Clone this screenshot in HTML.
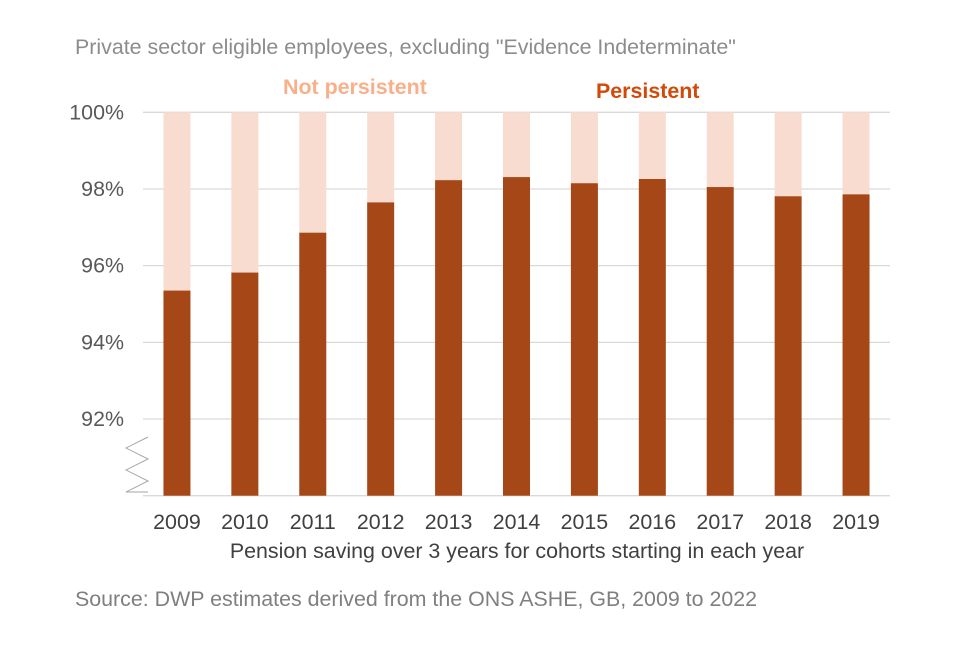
<!DOCTYPE html>
<html><head><meta charset="utf-8"><style>
body{margin:0;background:#fff;font-family:"Liberation Sans",Arial,sans-serif}
svg text{font-family:"Liberation Sans",Arial,sans-serif}
</style></head><body>
<svg id="c" width="960" height="640">
<text x="75" y="54" font-size="21.4" fill="#8c8c8c">Private sector eligible employees, excluding "Evidence Indeterminate"</text>
<text x="283" y="94" font-size="21.4" font-weight="bold" fill="#f9b08a">Not persistent</text>
<text x="596" y="98" font-size="21.4" font-weight="bold" fill="#d24a0a">Persistent</text>
<g id="grid"></g><g id="bars"></g><g id="labels"></g>
<polyline points="148,437 126,448 148,459 126,470 148,481 126,492 148,492" fill="none" stroke="#a6a6a6" stroke-width="1"/>
<text x="517" y="558" font-size="21.4" fill="#404040" text-anchor="middle">Pension saving over 3 years for cohorts starting in each year</text>
<text x="75" y="606" font-size="21.4" fill="#7f7f7f">Source: DWP estimates derived from the ONS ASHE, GB, 2009 to 2022</text>
</svg>
<script>
const categories=["2009","2010","2011","2012","2013","2014","2015","2016","2017","2018","2019"];
const persistent=[95.35,95.82,96.86,97.65,98.23,98.31,98.15,98.26,98.05,97.81,97.86];
const yTicks=[92,94,96,98,100];
const yTickLabels=["92%","94%","96%","98%","100%"];
const NS="http://www.w3.org/2000/svg";
const x0=143,x1=890,yMin=90,yMax=100,yTop=112.3,yBot=495.7;
const step=(x1-x0)/categories.length,bw=27;
const y=v=>yBot-(v-yMin)/(yMax-yMin)*(yBot-yTop);
function mk(t,a,p){const e=document.createElementNS(NS,t);for(const k in a)e.setAttribute(k,a[k]);document.getElementById(p).appendChild(e);return e;}
yTicks.forEach((t,i)=>{
 const l=mk('line',{x1:x0,x2:x1,y1:y(t),y2:y(t),stroke:'#d9d9d9','stroke-width':1.3},'grid');
 
 
 const tx=mk('text',{x:124,y:y(t)+7,'font-size':21.4,fill:'#595959','text-anchor':'end'},'labels');
 tx.textContent=yTickLabels[i];
 
 
});
const base=mk('line',{x1:x0,x2:x1,y1:yBot,y2:yBot,stroke:'#d9d9d9','stroke-width':1.3},'grid');


categories.forEach((c,i)=>{
 const cx=x0+step*(i+0.5);
 const r1=mk('rect',{x:cx-bw/2,y:yTop,width:bw,height:y(persistent[i])-yTop,fill:'#f8dcd0'},'bars');
 
 
 const r2=mk('rect',{x:cx-bw/2,y:y(persistent[i]),width:bw,height:yBot-y(persistent[i]),fill:'#a54716'},'bars');
 
 
 const t=mk('text',{x:cx,y:529,'font-size':21.4,fill:'#404040','text-anchor':'middle'},'labels');
 t.textContent=c;
 
 
});
</script>
</body></html>
